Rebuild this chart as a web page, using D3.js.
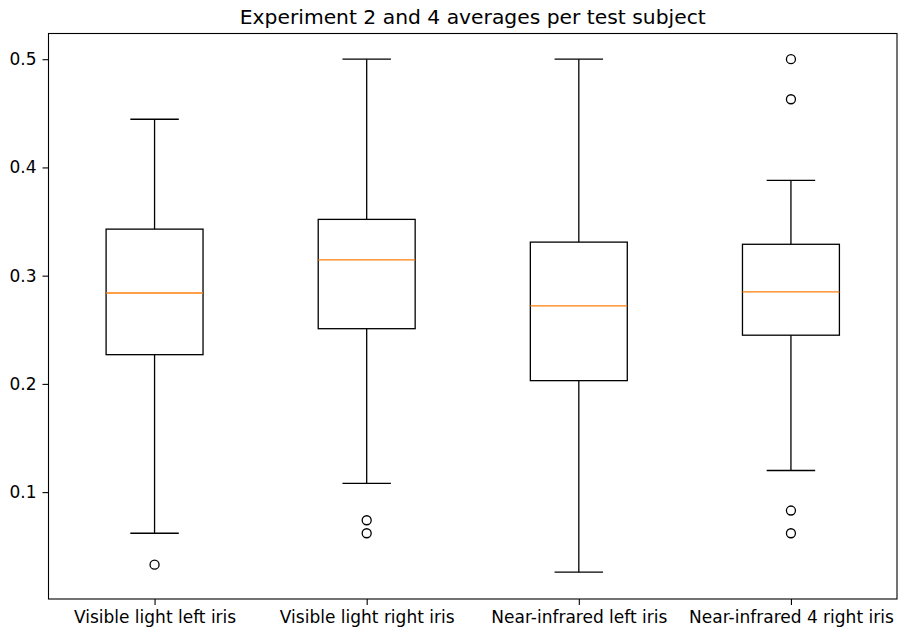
<!DOCTYPE html>
<html><head><meta charset="utf-8">
<script src="https://cdn.jsdelivr.net/npm/d3@7"></script>
<style>body{margin:0;background:#fff}svg{display:block}text{font-family:"DejaVu Sans",sans-serif;fill:#000}</style>
</head><body><svg id="c" width="898" height="628"></svg>
<script>
const categories = ["Visible light left iris","Visible light right iris","Near-infrared left iris","Near-infrared 4 right iris"];
const whiskerLow  = [0.062, 0.108, 0.026, 0.120];
const q1          = [0.227, 0.251, 0.203, 0.245];
const medians     = [0.284, 0.3145, 0.272, 0.285];
const q3          = [0.343, 0.352, 0.331, 0.329];
const whiskerHigh = [0.4445, 0.500, 0.500, 0.388];
const outliers    = [[0.033],[0.074,0.062],[],[0.500,0.463,0.083,0.062]];
const yTicks = [0.1,0.2,0.3,0.4,0.5];
const title = "Experiment 2 and 4 averages per test subject";

const svg = d3.select("#c");
const L=48.5, R=897, T=33.5, B=599;
const x = d3.scaleLinear().domain([0.5,4.5]).range([L,R]);
const y = d3.scaleLinear().domain([0.00125,0.52375]).range([B,T]);
const bw = 0.457, cw = bw/2;
const LW = 1.3;

svg.append("text").attr("x",(L+R)/2).attr("y",24).attr("text-anchor","middle")
  .attr("font-size","20.3px").attr("font-family","DejaVu Sans").text(title);

const g = svg.append("g");
categories.forEach((c,i)=>{
  const p=i+1, cx=x(p);
  const line=(x1,y1,x2,y2,col)=>g.append("line").attr("x1",x1).attr("y1",y1).attr("x2",x2).attr("y2",y2).attr("stroke",col||"#000").attr("stroke-width",LW);
  line(cx,y(q3[i]),cx,y(whiskerHigh[i]));
  line(cx,y(q1[i]),cx,y(whiskerLow[i]));
  line(x(p-cw/2),y(whiskerHigh[i]),x(p+cw/2),y(whiskerHigh[i]));
  line(x(p-cw/2),y(whiskerLow[i]),x(p+cw/2),y(whiskerLow[i]));
  g.append("rect").attr("x",x(p-bw/2)).attr("y",y(q3[i])).attr("width",x(p+bw/2)-x(p-bw/2)).attr("height",y(q1[i])-y(q3[i]))
    .attr("fill","none").attr("stroke","#000").attr("stroke-width",LW);
  line(x(p-bw/2),y(medians[i]),x(p+bw/2),y(medians[i]),"#ff7f0e");
  outliers[i].forEach(v=>g.append("circle").attr("cx",cx).attr("cy",y(v)).attr("r",4.5).attr("fill","none").attr("stroke","#000").attr("stroke-width",LW));
});

const yAxis = d3.axisLeft(y).tickValues(yTicks).tickFormat(d3.format(".1f")).tickSize(6).tickPadding(6);
const ya = svg.append("g").attr("transform",`translate(${L},0)`).call(yAxis)
  .attr("font-size","17px").attr("font-family","DejaVu Sans");
ya.select(".domain").remove();
ya.selectAll("line").attr("stroke","#000").attr("stroke-width",1.1);
const xAxis = d3.axisBottom(x).tickValues([1,2,3,4]).tickFormat((d)=>categories[d-1]).tickSize(6).tickPadding(6);
const xa = svg.append("g").attr("transform",`translate(0,${B})`).call(xAxis)
  .attr("font-size","17px").attr("font-family","DejaVu Sans");
xa.select(".domain").remove();
xa.selectAll("line").attr("stroke","#000").attr("stroke-width",1.1);
svg.append("rect").attr("x",L).attr("y",T).attr("width",R-L).attr("height",B-T).attr("fill","none").attr("stroke","#000").attr("stroke-width",1.1);
</script></body></html>
